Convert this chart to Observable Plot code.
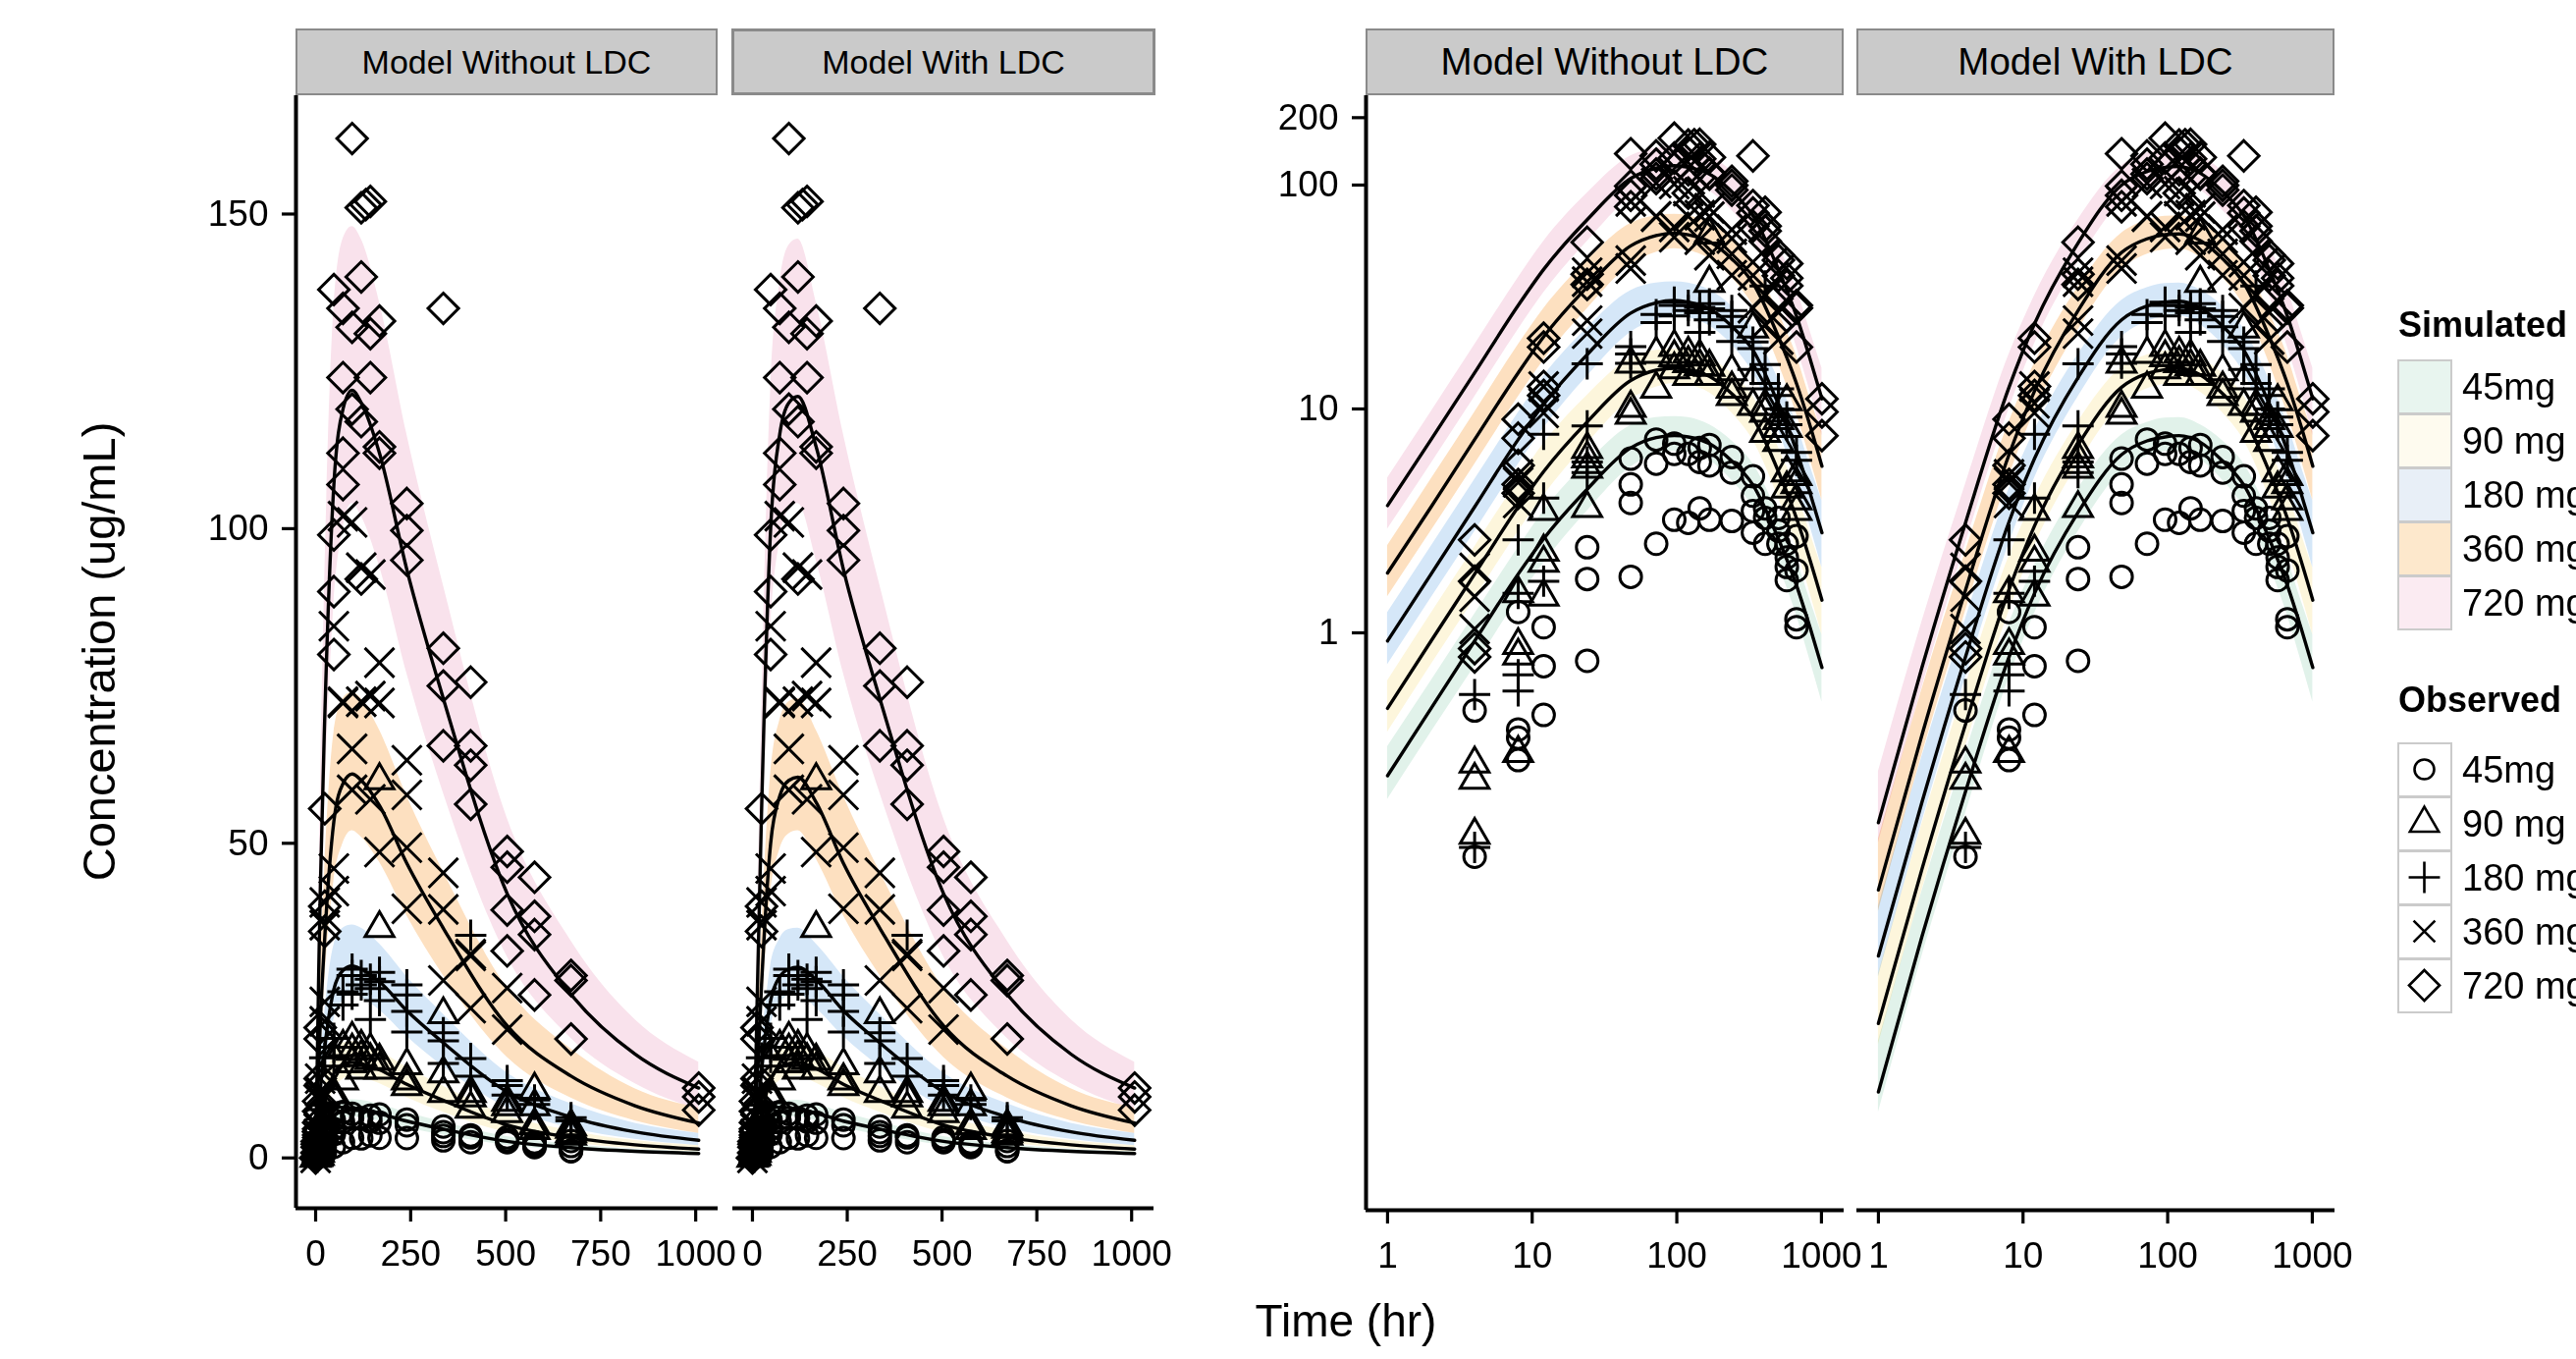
<!DOCTYPE html>
<html><head><meta charset="utf-8">
<script src="https://cdn.jsdelivr.net/npm/d3@7"></script>
<script src="https://cdn.jsdelivr.net/npm/@observablehq/plot@0.6"></script>
<style>
html,body{margin:0;padding:0;background:#fff;}
#root{position:relative;width:2624px;height:1384px;overflow:hidden;font-family:"Liberation Sans",Arial,Helvetica,sans-serif;background:#fff;}
#root svg{position:absolute;left:0;top:0;}
.strip{position:absolute;box-sizing:border-box;background:#cacaca;border:2.5px solid #8a8a8a;display:flex;align-items:center;justify-content:center;color:#000;white-space:nowrap;}
.txt{position:absolute;white-space:nowrap;color:#000;}
.kbox{position:absolute;box-sizing:border-box;border:2.5px solid #cbcbcb;}
</style></head>
<body><div id="root"></div>
<script>
// ---------------- data ----------------
const models = ["Model Without LDC", "Model With LDC"];
const doseLabels = ["45mg", "90 mg", "180 mg", "360 mg", "720 mg"];
const xTicksLinear = [0, 250, 500, 750, 1000];
const xTicksLog = [1, 10, 100, 1000];
const yTicksLinear = [0, 50, 100, 150];
const yTicksLog = [1, 10, 100, 200];

const simTime = [0, 1, 2, 4, 8, 12, 24, 48, 72, 96, 120, 168, 240, 336, 504, 672, 840, 1008];

// Model Without LDC
const medNo45 = [0, 0.23, 0.46, 0.92, 1.83, 2.63, 4.38, 6.7, 7.45, 7.6, 7.5, 7, 5.85, 4.58, 2.63, 1.63, 1.04, 0.7];
const loNo45 = [0, 0.18, 0.36, 0.71, 1.42, 2.05, 3.5, 5.5, 6.25, 6.5, 6.4, 5.9, 4.8, 3.63, 2, 1.2, 0.74, 0.49];
const hiNo45 = [0, 0.31, 0.61, 1.21, 2.4, 3.5, 5.75, 8.45, 9.15, 9.25, 9.15, 8.5, 7.2, 5.7, 3.38, 2.15, 1.38, 0.98];
const medNo90 = [0, 0.46, 0.92, 1.83, 3.65, 5.25, 8.75, 13.4, 14.9, 15.2, 15, 14, 11.7, 9.15, 5.25, 3.25, 2.08, 1.4];
const loNo90 = [0, 0.36, 0.72, 1.42, 2.83, 4.1, 7, 11, 12.5, 13, 12.8, 11.8, 9.6, 7.25, 4, 2.4, 1.48, 0.98];
const hiNo90 = [0, 0.61, 1.22, 2.42, 4.8, 7, 11.5, 16.9, 18.3, 18.5, 18.3, 17, 14.4, 11.4, 6.75, 4.3, 2.75, 1.95];
const medNo180 = [0, 0.92, 1.83, 3.65, 7.3, 10.5, 17.5, 26.8, 29.8, 30.5, 30, 28, 23.4, 18.3, 10.5, 6.5, 4.15, 2.8];
const loNo180 = [0, 0.72, 1.43, 2.83, 5.65, 8.2, 14, 22, 25, 26, 25.5, 23.5, 19.3, 14.5, 8, 4.75, 2.95, 1.95];
const hiNo180 = [0, 1.23, 2.43, 4.83, 9.6, 14, 23, 33.8, 36.5, 37, 36.5, 34, 28.8, 22.8, 13.5, 8.6, 5.5, 3.9];
const medNo360 = [0, 1.85, 3.65, 7.3, 14.5, 21, 35, 53.5, 59.5, 61, 60, 56, 46.8, 36.5, 21, 13, 8.3, 5.55];
const loNo360 = [0, 1.45, 2.85, 5.65, 11.3, 16.5, 28, 44, 50, 52, 51, 47, 38.5, 29, 16, 9.5, 5.9, 3.9];
const hiNo360 = [0, 2.45, 4.85, 9.65, 19.3, 28, 46, 67.5, 73, 74, 73, 68, 57.5, 45.5, 27, 17.3, 11, 7.9];
const medNo720 = [0, 3.7, 7.3, 14.5, 29, 42, 70, 107, 119, 122, 120, 112, 93.5, 73, 42, 26, 16.5, 11.1];
const loNo720 = [0, 2.9, 5.7, 11.3, 22.6, 33, 56, 88, 100, 104, 102, 94, 77, 58, 32, 19, 11.8, 7.6];
const hiNo720 = [0, 4.9, 9.7, 19.3, 38.5, 56, 92, 135, 146, 148, 146, 136, 115, 91, 54, 34.5, 22, 15.2];

// Model With LDC
const medLdc45 = [0, 0.0089, 0.044, 0.195, 0.78, 1.5, 3.45, 6.25, 7.2, 7.5, 7.6, 7.1, 5.85, 4.58, 2.63, 1.63, 1.04, 0.7];
const loLdc45 = [0, 0.0072, 0.036, 0.156, 0.63, 1.22, 2.83, 5.25, 6.15, 6.45, 6.5, 5.95, 4.8, 3.63, 2, 1.2, 0.74, 0.49];
const hiLdc45 = [0, 0.015, 0.07, 0.29, 1.1, 2, 4.4, 7.65, 8.7, 9.1, 9.15, 8.5, 7.2, 5.7, 3.38, 2.15, 1.38, 0.98];
const medLdc90 = [0, 0.018, 0.088, 0.39, 1.56, 3, 6.9, 12.5, 14.4, 15, 15.2, 14.2, 11.7, 9.15, 5.25, 3.25, 2.08, 1.4];
const loLdc90 = [0, 0.0145, 0.071, 0.31, 1.25, 2.45, 5.65, 10.5, 12.3, 12.9, 13, 11.9, 9.6, 7.25, 4, 2.4, 1.48, 0.98];
const hiLdc90 = [0, 0.03, 0.14, 0.58, 2.2, 4, 8.75, 15.3, 17.4, 18.2, 18.3, 17, 14.4, 11.4, 6.75, 4.3, 2.75, 1.95];
const medLdc180 = [0, 0.036, 0.175, 0.78, 3.13, 6, 13.8, 25, 28.8, 30, 30.3, 28.3, 23.4, 18.3, 10.5, 6.5, 4.15, 2.8];
const loLdc180 = [0, 0.029, 0.143, 0.63, 2.5, 4.9, 11.3, 21, 24.5, 25.8, 26, 23.8, 19.3, 14.5, 8, 4.75, 2.95, 1.95];
const hiLdc180 = [0, 0.06, 0.28, 1.15, 4.4, 8, 17.5, 30.5, 34.8, 36.3, 36.5, 34, 28.8, 22.8, 13.5, 8.6, 5.5, 3.9];
const medLdc360 = [0, 0.071, 0.35, 1.55, 6.25, 12, 27.5, 50, 57.5, 60, 60.5, 56.5, 46.8, 36.5, 21, 13, 8.3, 5.55];
const loLdc360 = [0, 0.057, 0.285, 1.25, 5, 9.75, 22.5, 42, 49, 51.5, 52, 47.5, 38.5, 29, 16, 9.5, 5.9, 3.9];
const hiLdc360 = [0, 0.12, 0.56, 2.3, 8.75, 16, 35, 61, 69.5, 72.5, 73, 68, 57.5, 45.5, 27, 17.3, 11, 7.9];
const medLdc720 = [0, 0.142, 0.7, 3.1, 12.5, 24, 55, 100, 115, 120, 121, 113, 93.5, 73, 42, 26, 16.5, 11.1];
const loLdc720 = [0, 0.115, 0.57, 2.5, 10, 19.5, 45, 84, 98, 103, 104, 95, 77, 58, 32, 19, 11.8, 7.6];
const hiLdc720 = [0, 0.24, 1.12, 4.6, 17.5, 32, 70, 122, 139, 145, 146, 136, 115, 91, 54, 34.5, 22, 15.2];

// Observed [time (hr), concentration (ug/mL)]
const obs45 = [[0,0],[4,0.45],[4,0.10],[8,1.24],[8,0.37],[8,0.34],[8,0.27],[12,1.06],[12,0.71],[12,0.43],[24,2.41],[24,1.74],[24,0.75],[48,6.0],[48,4.6],[48,3.8],[48,1.78],[72,7.3],[72,5.7],[72,2.5],[96,7.0],[96,6.3],[96,3.2],[120,6.3],[120,3.1],[144,6.7],[144,5.8],[144,3.6],[168,6.9],[168,5.6],[168,3.2],[240,6.1],[240,5.2],[240,3.16],[336,5.0],[336,4.1],[336,3.5],[336,2.8],[408,3.6],[408,3.26],[408,2.5],[504,3.26],[504,2.86],[504,2.5],[576,2.5],[576,2.17],[576,1.97],[576,1.72],[672,2.7],[672,1.9],[672,1.15],[672,1.06]];
const obs90 = [[0,0],[4,0.26],[4,0.22],[4,0.125],[8,1.5],[8,0.88],[8,0.79],[8,0.29],[12,3.5],[12,2.3],[12,2.05],[12,1.45],[24,6.6],[24,6.0],[24,5.4],[24,3.6],[48,15.9],[48,10.1],[48,9.4],[72,17.6],[72,12.3],[96,18.9],[96,17],[96,15],[120,17.6],[120,16],[120,14],[144,17.1],[144,15.5],[168,60],[168,36.5],[168,15.4],[168,14],[240,14.7],[240,12.3],[240,11.4],[336,22.8],[336,13.4],[336,10.3],[408,10.3],[408,9.6],[408,7.8],[504,8.9],[504,8.2],[504,7.1],[576,10.8],[576,8.2],[576,5.2],[576,4.4],[672,5],[672,4.6],[672,3.9],[672,3.5]];
const obs180 = [[0,0],[4,0.53],[4,0.11],[8,2.6],[8,1.5],[8,0.65],[8,0.55],[12,7.7],[12,4.0],[12,1.7],[24,15.9],[24,8.4],[24,5.8],[24,5.2],[48,19],[48,17.6],[48,16],[72,26.4],[72,24.3],[96,30],[96,29],[96,26],[120,29],[120,27.5],[144,28.4],[144,26.9],[144,22],[168,29.5],[168,28],[168,25],[240,27.5],[240,25.9],[240,23.3],[240,20],[336,19.9],[336,18.6],[336,15],[408,35.4],[408,15.8],[408,13],[504,12.3],[504,11.5],[504,10],[576,9.2],[576,8.5],[672,6.4],[672,5.9]];
const obs360 = [[0,0],[4,1.95],[4,1.45],[4,1.04],[8,5.1],[8,4.7],[8,3.8],[12,12.6],[12,10.6],[12,9.6],[24,40.6],[24,37],[24,24.8],[24,21.7],[48,84.5],[48,46],[48,42.4],[72,102],[72,72.5],[72,72.3],[96,101],[96,65],[96,58.5],[120,93.8],[120,72.5],[144,92.7],[144,73.4],[144,57],[168,78.7],[168,72.3],[168,48.6],[240,63.2],[240,57.7],[240,49.3],[240,39.6],[336,45.3],[336,39.5],[336,28.2],[408,32.4],[408,32.1],[408,23.8],[504,27],[504,20.4]];
const obs720 = [[0,0],[4,2.6],[4,1.7],[4,0.85],[4,0.78],[8,9.0],[8,7.4],[8,5.6],[8,4.6],[8,4.2],[12,20.7],[12,18.9],[12,12.6],[12,11.5],[24,55.5],[24,40],[24,36],[48,138],[48,99],[48,90],[48,80],[72,135],[72,124],[72,112],[72,107],[96,162],[96,132],[96,119],[120,151],[132,151.5],[144,152],[120,140],[120,117],[120,92],[144,131],[144,124],[168,133],[168,113],[168,112],[240,104],[240,99.7],[240,95],[336,135],[336,81],[336,75],[336,65.5],[408,75.6],[408,65.5],[408,62.4],[408,56.2],[504,48.7],[504,46.2],[504,39.4],[504,32.9],[576,44.6],[576,38.4],[576,35.5],[576,25.9],[672,29],[672,28.2],[672,18.9],[1008,11.1],[1008,9.7],[1008,7.6]];

// ---------------- build tables ----------------
const simTable = [];
function addSim(model, dose, lo, med, hi) {
  simTime.forEach((t, i) => simTable.push({model, dose, t, lo: lo[i], med: med[i], hi: hi[i]}));
}
addSim(models[0], doseLabels[0], loNo45, medNo45, hiNo45);
addSim(models[0], doseLabels[1], loNo90, medNo90, hiNo90);
addSim(models[0], doseLabels[2], loNo180, medNo180, hiNo180);
addSim(models[0], doseLabels[3], loNo360, medNo360, hiNo360);
addSim(models[0], doseLabels[4], loNo720, medNo720, hiNo720);
addSim(models[1], doseLabels[0], loLdc45, medLdc45, hiLdc45);
addSim(models[1], doseLabels[1], loLdc90, medLdc90, hiLdc90);
addSim(models[1], doseLabels[2], loLdc180, medLdc180, hiLdc180);
addSim(models[1], doseLabels[3], loLdc360, medLdc360, hiLdc360);
addSim(models[1], doseLabels[4], loLdc720, medLdc720, hiLdc720);

const obsTable = [];
[obs45, obs90, obs180, obs360, obs720].forEach((arr, i) =>
  arr.forEach(([t, c]) => obsTable.push({dose: doseLabels[i], t, c})));

// ---------------- styles ----------------
const FONT = '"Liberation Sans", Arial, Helvetica, sans-serif';
const bandColors = ["#e1f2ea", "#fdf6dc", "#d5e7f8", "#fde0c0", "#f9e2ec"];
const keyColors = ["#e8f5ef", "#fefbef", "#e8eff7", "#fde8cc", "#fbebf2"];
const symbols = [d3.symbolCircle, d3.symbolTriangle2, d3.symbolPlus, d3.symbolTimes, d3.symbolDiamond2];
const radii = [11, 14, 10.3, 13.7, 14];

const W = 2624, H = 1384;
const root = document.getElementById("root");

function panel(model, log, L, R, B, showY) {
  const xDom = log ? [0.71, 1435] : [-51.7, 1059];
  const yDom = log ? [0.002636, 250.6] : [-8, 168.8];
  const sims = simTable.filter(d => d.model === model && (!log || d.t > 0));
  const obs = obsTable.filter(d => !log || d.c > 0);
  const marks = [];
  doseLabels.forEach((k, i) => marks.push(Plot.areaY(sims.filter(d => d.dose === k),
    {x: "t", y1: "lo", y2: "hi", fill: bandColors[i], curve: "monotone-x", mixBlendMode: "multiply"})));
  doseLabels.forEach(k => marks.push(Plot.lineY(sims.filter(d => d.dose === k),
    {x: "t", y: "med", stroke: "#000", strokeWidth: 3.4, curve: "monotone-x"})));
  doseLabels.forEach((k, i) => marks.push(Plot.dot(obs.filter(d => d.dose === k),
    {x: "t", y: "c", symbol: symbols[i], r: radii[i], stroke: "#000", fill: "none", strokeWidth: 3})));
  marks.push(Plot.axisX({ticks: log ? xTicksLog : xTicksLinear, tickFormat: d => String(d),
    tickSize: 14, tickPadding: 18, strokeWidth: 3.2, label: null, fontSize: 37}));
  marks.push(Plot.ruleY([yDom[0]], {stroke: "#000", strokeWidth: 4}));
  if (showY) {
    marks.push(Plot.axisY({ticks: log ? yTicksLog : yTicksLinear, tickFormat: d => String(d),
      tickSize: 14, tickPadding: 14, strokeWidth: 3.2, label: null, fontSize: 37}));
    marks.push(Plot.ruleX([xDom[0]], {stroke: "#000", strokeWidth: 4}));
  }
  return Plot.plot({
    width: W, height: H,
    marginLeft: L, marginRight: W - R, marginTop: 97, marginBottom: H - B,
    x: {type: log ? "log" : "linear", domain: xDom, axis: null},
    y: {type: log ? "log" : "linear", domain: yDom, axis: null},
    style: {background: "transparent", overflow: "visible", maxWidth: "none", fontFamily: FONT, fontSize: "37px", color: "#000"},
    marks
  });
}

root.appendChild(panel(models[0], false, 301, 731, 1230, true));
root.appendChild(panel(models[1], false, 746, 1175, 1230, false));
root.appendChild(panel(models[0], true, 1391, 1878, 1232, true));
root.appendChild(panel(models[1], true, 1891, 2378, 1232, false));

// strips
function strip(text, left, right, fs, bw) {
  const s = document.createElement("div");
  s.className = "strip";
  s.style.left = left + "px"; s.style.top = "29px";
  s.style.width = (right - left) + "px"; s.style.height = "68px";
  s.style.fontSize = fs + "px";
  s.style.borderWidth = bw + "px";
  s.textContent = text;
  root.appendChild(s);
}
strip(models[0], 301, 731, 34, 2.5);
strip(models[1], 745, 1177, 34, 3.5);
strip(models[0], 1391, 1878, 38.5, 2.5);
strip(models[1], 1891, 2378, 38.5, 2.5);

function text(str, x, y, fs, opts = {}) {
  const t = document.createElement("div");
  t.className = "txt";
  t.textContent = str;
  t.style.fontSize = fs + "px";
  t.style.lineHeight = fs + "px";
  if (opts.bold) t.style.fontWeight = "bold";
  if (opts.center) {
    t.style.left = (x - 500) + "px"; t.style.width = "1000px"; t.style.textAlign = "center";
  } else t.style.left = x + "px";
  t.style.top = (y - fs / 2) + "px";
  if (opts.rotate) { t.style.transform = "rotate(-90deg)"; }
  root.appendChild(t);
  return t;
}
text("Concentration (ug/mL)", 100, 663, 47, {center: true, rotate: true});
text("Time (hr)", 1371, 1345, 46, {center: true});

// legend
text("Simulated", 2443, 331, 36, {bold: true});
const simTops = [366, 421, 476, 531, 586];
simTops.forEach((y, i) => {
  const b = document.createElement("div");
  b.className = "kbox";
  b.style.left = "2442px"; b.style.top = y + "px"; b.style.width = "56px"; b.style.height = "56px";
  b.style.background = keyColors[i];
  root.appendChild(b);
  text(doseLabels[i], 2508, y + 28, 38);
});
text("Observed", 2443, 713, 36, {bold: true});
const obsTops = [756, 811, 866, 921, 976];
const legR = [10, 14, 10.3, 10, 14];
obsTops.forEach((y, i) => {
  const b = document.createElement("div");
  b.className = "kbox";
  b.style.left = "2442px"; b.style.top = y + "px"; b.style.width = "56px"; b.style.height = "56px";
  b.style.background = "#fff";
  const p = d3.symbol(symbols[i], legR[i] * legR[i] * Math.PI)();
  b.innerHTML = `<svg width="51" height="51" style="position:absolute;left:0;top:0"><path d="${p}" transform="translate(25.5,25.5)" fill="none" stroke="#000" stroke-width="2.6"/></svg>`;
  root.appendChild(b);
  text(doseLabels[i], 2508, y + 28, 38);
});
</script>
</body></html>
